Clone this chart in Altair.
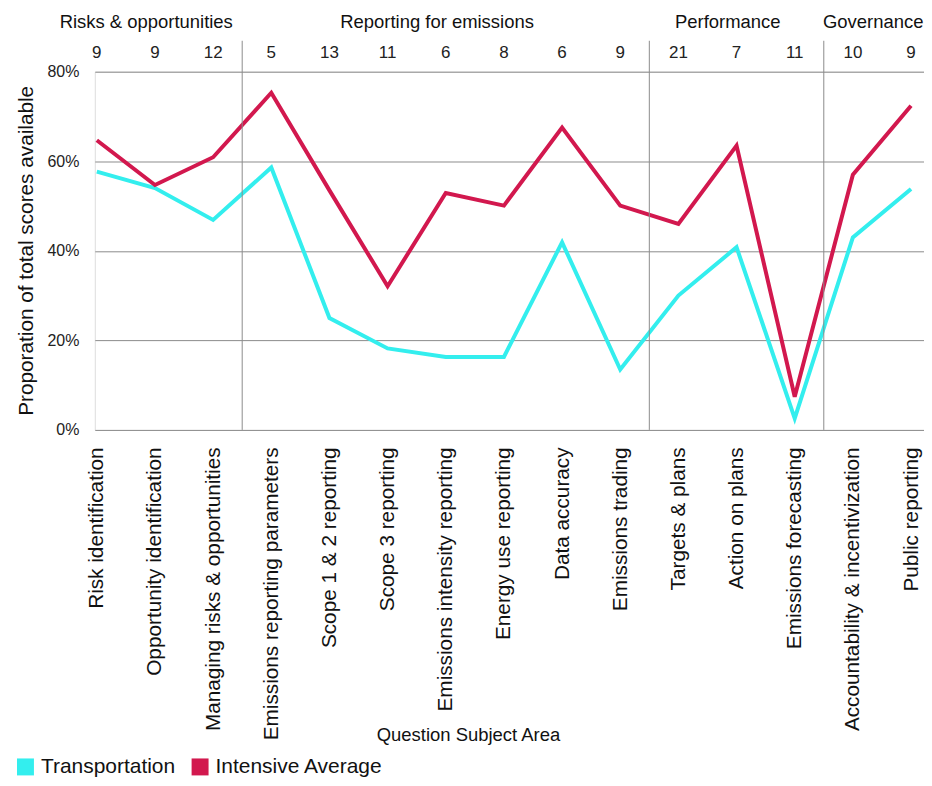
import json
import altair as alt
import pandas as pd

categories = [
    "Risk identification", "Opportunity identification", "Managing risks & opportunities",
    "Emissions reporting parameters", "Scope 1 & 2 reporting", "Scope 3 reporting",
    "Emissions intensity reporting", "Energy use reporting", "Data accuracy",
    "Emissions trading", "Targets & plans", "Action on plans", "Emissions forecasting",
    "Accountability & incentivization", "Public reporting",
]
question_counts = [9, 9, 12, 5, 13, 11, 6, 8, 6, 9, 21, 7, 11, 10, 9]
transportation = [57.7, 54.0, 46.9, 58.6, 25.0, 18.2, 16.3, 16.3, 41.9, 13.5, 30.0, 40.8, 2.6, 43.0, 53.8]
intensive_average = [64.7, 54.7, 60.9, 75.3, 53.5, 32.1, 52.9, 50.1, 67.5, 50.1, 46.0, 63.5, 7.4, 57.0, 72.4]

group_names = ["Risks & opportunities", "Reporting for emissions", "Performance", "Governance"]
group_start = [0, 3, 10, 13]
group_end = [2, 9, 12, 14]

series_names = ["Transportation", "Intensive Average"]
series_colors = ["#33EEEE", "#D2184E"]

FONT = "Liberation Sans"

rows = []
for i, c in enumerate(categories):
    rows.append({"idx": i, "category": c, "series": series_names[0], "value": transportation[i]})
    rows.append({"idx": i, "category": c, "series": series_names[1], "value": intensive_average[i]})
df = pd.DataFrame(rows)

counts_df = pd.DataFrame({"idx": list(range(len(categories))), "n": [str(v) for v in question_counts]})
groups_df = pd.DataFrame({"name": group_names, "start": group_start, "end": group_end})

label_expr = "[" + ",".join(json.dumps(c) for c in categories) + "][datum.value]"

x_scale = alt.Scale(domain=[-0.0343, 14.223], nice=False, zero=False)
y_scale = alt.Scale(domain=[0, 80], nice=False)

x_axis = alt.Axis(
    values=list(range(len(categories))), labelExpr=label_expr, labelAngle=-90,
    labelAlign="right", labelBaseline="middle",
    labelFontSize=20.8, labelFont=FONT, labelColor="#111111", labelPadding=17,
    labelLimit=600, labelOverlap=False, labelFlush=False, ticks=False,
    domain=False, grid=False, title="Question Subject Area", titleFont=FONT,
    titleFontSize=18.5, titleFontWeight="normal", titleY=305, titleX=374,
    titleAlign="center", titleBaseline="middle", titleColor="#111111",
)

lines = alt.Chart(df).mark_line(strokeWidth=4).encode(
    x=alt.X("idx:Q", scale=x_scale, axis=x_axis),
    y=alt.Y(
        "value:Q", scale=y_scale,
        axis=alt.Axis(
            values=[0, 20, 40, 60, 80], labelExpr="datum.value + '%'", labelFontSize=16,
            labelFont=FONT, labelColor="#222222", labelPadding=16, ticks=False,
            domain=False, grid=True, gridColor="#8c8c8c", gridWidth=1,
            title="Proporation of total scores available", titleFont=FONT,
            titleFontSize=20.8, titleFontWeight="normal", titleColor="#111111",
            titleX=-68, titleY=179, titleAngle=-90, titleBaseline="middle",
        ),
    ),
    color=alt.Color(
        "series:N", scale=alt.Scale(domain=series_names, range=series_colors),
        legend=alt.Legend(
            orient="none", legendX=-80, legendY=686, direction="horizontal",
            symbolType="square", symbolSize=64, symbolStrokeWidth=9,
            labelFontSize=21, labelFont=FONT, labelColor="#111111", title=None,
            columnPadding=2, labelOffset=5, padding=0, labelLimit=400,
        ),
    ),
)

separators = alt.Chart(groups_df).transform_filter(
    "datum.start > 0"
).transform_calculate(
    sep="datum.start - 0.5"
).mark_rule(color="#8c8c8c", strokeWidth=1).encode(
    x=alt.X("sep:Q", scale=x_scale, title="Question Subject Area"),
    y=alt.value(-31),
    y2=alt.value(359),
)

counts = alt.Chart(counts_df).mark_text(
    fontSize=17, font=FONT, baseline="middle", color="#222222"
).encode(
    x=alt.X("idx:Q", scale=x_scale, title="Question Subject Area"),
    y=alt.value(-19),
    text="n:N",
)

group_titles = alt.Chart(groups_df).transform_calculate(
    center="(datum.start + datum.end) / 2 - 0.15"
).mark_text(
    fontSize=18.5, font=FONT, baseline="middle", color="#111111"
).encode(
    x=alt.X("center:Q", scale=x_scale, title="Question Subject Area"),
    y=alt.value(-50),
    text="name:N",
)

chart = alt.layer(lines, separators, counts, group_titles).properties(
    width=831,
    height=359,
    autosize=alt.AutoSizeParams(type="none"),
    padding={"left": 87, "top": 63, "right": 0, "bottom": 348},
    background="white",
).configure_view(stroke=None).configure(font=FONT)

chart.save("out.html", embed_options={"renderer": "svg", "actions": False})
